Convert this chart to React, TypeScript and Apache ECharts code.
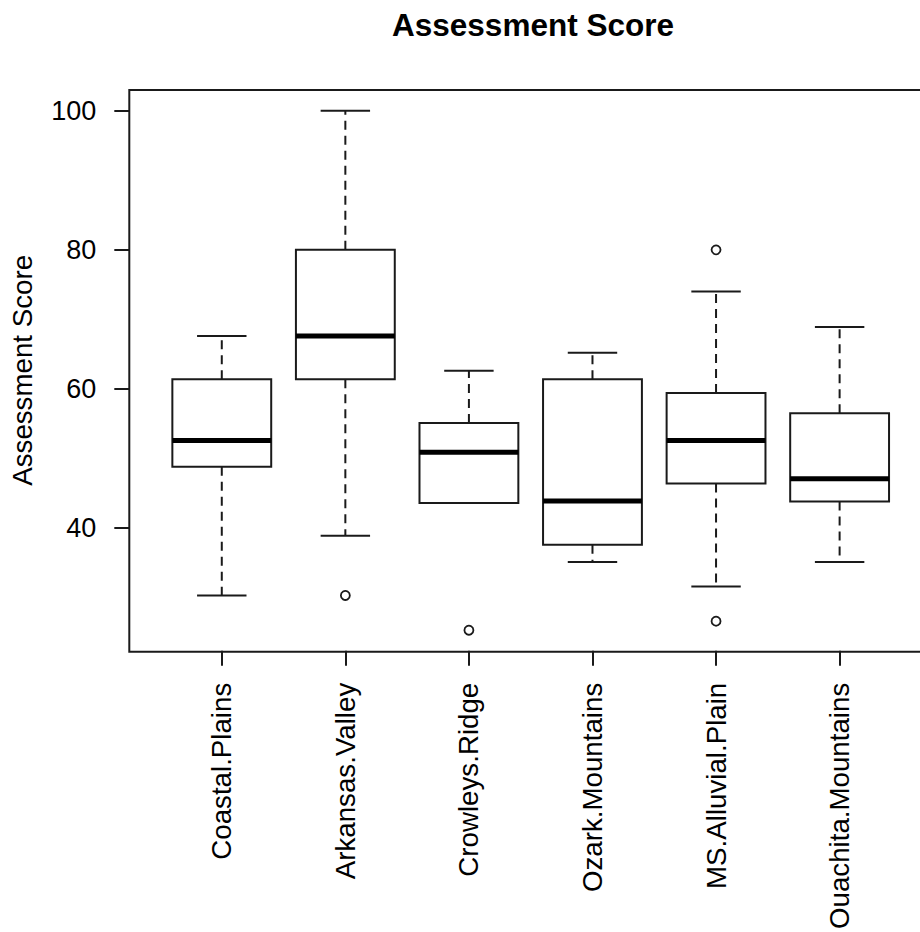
import React, { useEffect, useRef } from "react";
import * as echarts from "echarts";

const categories = [
  "Coastal.Plains",
  "Arkansas.Valley",
  "Crowleys.Ridge",
  "Ozark.Mountains",
  "MS.Alluvial.Plain",
  "Ouachita.Mountains",
];
const whiskerLow = [30.3, 38.9, 43.6, 35.1, 31.6, 35.1];
const q1 = [48.8, 61.4, 43.6, 37.6, 46.4, 43.8];
const median = [52.6, 67.6, 50.9, 43.9, 52.6, 47.1];
const q3 = [61.4, 80.0, 55.1, 61.4, 59.4, 56.5];
const whiskerHigh = [67.6, 100.0, 62.6, 65.2, 74.0, 68.9];
const outliers: [string, number][] = [
  ["Arkansas.Valley", 30.3],
  ["Crowleys.Ridge", 25.3],
  ["MS.Alluvial.Plain", 80.0],
  ["MS.Alluvial.Plain", 26.6],
];
const yTicks = [40, 60, 80, 100];
const yMin = 22.35;
const yMax = 102.99;

const FONT = "'Liberation Sans', Arial, sans-serif";
const INK = "#1a1a1a";

export default function App() {
  const ref = useRef<HTMLDivElement>(null);
  useEffect(() => {
    if (!ref.current) return;
    const chart = echarts.init(ref.current, undefined, { renderer: "svg" });
    const boxData = categories.map((_, i) => [
      i,
      whiskerLow[i],
      q1[i],
      median[i],
      q3[i],
      whiskerHigh[i],
    ]);
    const option: any = {
      animation: false,
      backgroundColor: "#fff",
      textStyle: { fontFamily: FONT },
      title: {
        text: "Assessment Score",
        left: 528,
        top: 4,
        textAlign: "center",
        textStyle: {
          fontFamily: FONT,
          fontWeight: "bold",
          fontSize: 31.5,
          color: "#000",
        },
      },
      grid: { left: 160, right: 18.6, top: 90, bottom: 280.3, containLabel: false },
      xAxis: {
        type: "category",
        data: categories,
        boundaryGap: true,
        axisLine: { show: false },
        axisTick: {
          show: true,
          alignWithLabel: true,
          interval: 0,
          length: 15,
          lineStyle: { color: INK, width: 2 },
        },
        axisLabel: {
          interval: 0,
          rotate: 90,
          margin: 32,
          fontSize: 27.7,
          fontFamily: FONT,
          color: "#000",
        },
        splitLine: { show: false },
      },
      yAxis: {
        type: "value",
        min: yMin,
        max: yMax,
        offset: 30.7,
        name: "Assessment Score",
        nameLocation: "middle",
        nameRotate: 90,
        nameGap: 93,
        nameTextStyle: { fontFamily: FONT, fontSize: 27.7, color: "#000" },
        axisLine: { show: false },
        axisTick: {
          show: true,
          length: 15,
          customValues: yTicks,
          lineStyle: { color: INK, width: 2 },
        },
        axisLabel: {
          customValues: yTicks,
          margin: 33,
          fontSize: 27,
          fontFamily: FONT,
          color: "#000",
        },
        splitLine: { show: false },
      },
      graphic: [
        {
          type: "rect",
          shape: { x: 129.3, y: 90, width: 801, height: 561.7 },
          style: { fill: "none", stroke: INK, lineWidth: 2 },
          z: 10,
        },
      ],
      series: [
        {
          type: "custom",
          data: boxData,
          encode: { x: 0, y: [1, 2, 3, 4, 5] },
          renderItem: (params: any, api: any) => {
            const idx = api.value(0);
            const x = api.coord([idx, api.value(3)])[0];
            const yLo = api.coord([idx, api.value(1)])[1];
            const yQ1 = api.coord([idx, api.value(2)])[1];
            const yMed = api.coord([idx, api.value(3)])[1];
            const yQ3 = api.coord([idx, api.value(4)])[1];
            const yHi = api.coord([idx, api.value(5)])[1];
            const band = api.size([1, 0])[0];
            const half = band * 0.4;
            const capHalf = half / 2;
            const lineStyle = { stroke: INK, lineWidth: 2 };
            return {
              type: "group",
              children: [
                {
                  type: "line",
                  shape: { x1: x, y1: yQ3, x2: x, y2: yHi },
                  style: { ...lineStyle, lineDash: [9, 6] },
                },
                {
                  type: "line",
                  shape: { x1: x, y1: yQ1, x2: x, y2: yLo },
                  style: { ...lineStyle, lineDash: [9, 6] },
                },
                {
                  type: "line",
                  shape: { x1: x - capHalf, y1: yHi, x2: x + capHalf, y2: yHi },
                  style: lineStyle,
                },
                {
                  type: "line",
                  shape: { x1: x - capHalf, y1: yLo, x2: x + capHalf, y2: yLo },
                  style: lineStyle,
                },
                {
                  type: "rect",
                  shape: { x: x - half, y: yQ3, width: half * 2, height: yQ1 - yQ3 },
                  style: { fill: "#fff", stroke: INK, lineWidth: 2 },
                },
                {
                  type: "line",
                  shape: { x1: x - half, y1: yMed, x2: x + half, y2: yMed },
                  style: { stroke: "#000", lineWidth: 5, lineCap: "butt" },
                },
              ],
            };
          },
        },
        {
          type: "scatter",
          data: outliers,
          symbol: "circle",
          symbolSize: 9,
          itemStyle: { color: "#fff", borderColor: INK, borderWidth: 1.8, opacity: 1 },
          z: 5,
        },
      ],
    };
    chart.setOption(option);
    return () => chart.dispose();
  }, []);
  return (
    <div
      ref={ref}
      style={{ position: "fixed", left: 0, top: 0, width: 920, height: 932 }}
    />
  );
}
